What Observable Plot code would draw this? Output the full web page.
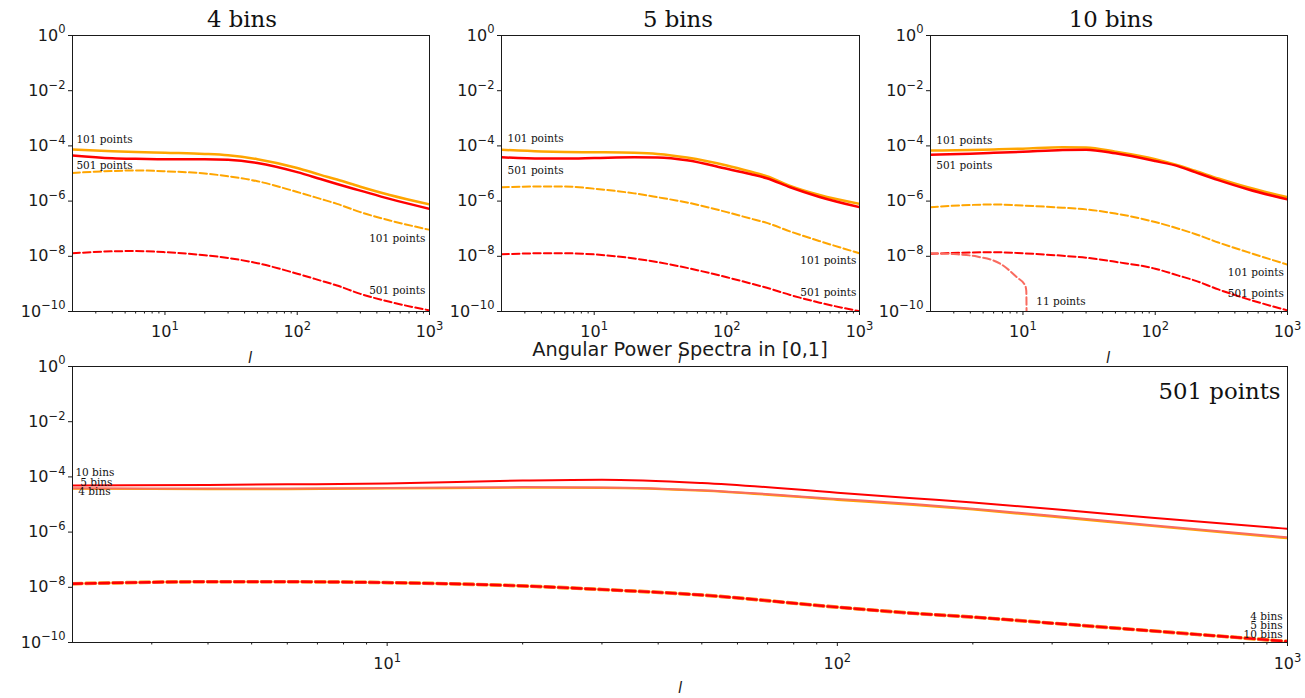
<!DOCTYPE html>
<html><head><meta charset="utf-8">
<script src="https://cdn.jsdelivr.net/npm/d3@7"></script>
<script src="https://cdn.jsdelivr.net/npm/@observablehq/plot@0.6"></script>
<style>
html,body{margin:0;padding:0;background:#fff;}
#wrap{position:relative;width:1305px;height:698px;overflow:hidden;background:#fff;}
#wrap > svg{position:absolute;}
</style></head><body><div id="wrap"></div>
<script>
// ---------- data (values are log10 of the spectrum) ----------
const ell = [2, 4, 6, 10, 20, 30, 50, 100, 150, 200, 300, 500, 1000];

// 4 bins panel
const bins4_solid101  = [-4.13,-4.19,-4.22,-4.25,-4.29,-4.34,-4.48,-4.80,-5.05,-5.22,-5.48,-5.78,-6.12];
const bins4_solid501  = [-4.35,-4.45,-4.47,-4.48,-4.48,-4.50,-4.62,-4.95,-5.20,-5.38,-5.62,-5.92,-6.28];
const bins4_dashed101 = [-4.98,-4.91,-4.89,-4.92,-5.00,-5.10,-5.28,-5.67,-5.92,-6.10,-6.40,-6.70,-7.04];
const bins4_dashed501 = [-7.89,-7.82,-7.81,-7.85,-7.96,-8.06,-8.25,-8.63,-8.88,-9.06,-9.36,-9.65,-9.96];
// 5 bins panel
const bins5_solid101  = [-4.14,-4.20,-4.22,-4.23,-4.25,-4.29,-4.42,-4.71,-4.93,-5.10,-5.45,-5.78,-6.10];
const bins5_solid501  = [-4.41,-4.46,-4.46,-4.44,-4.41,-4.42,-4.52,-4.83,-5.02,-5.17,-5.50,-5.85,-6.22];
const bins5_dashed101 = [-5.50,-5.47,-5.47,-5.55,-5.72,-5.86,-6.05,-6.40,-6.63,-6.79,-7.10,-7.45,-7.89];
const bins5_dashed501 = [-7.93,-7.89,-7.89,-7.93,-8.08,-8.21,-8.42,-8.76,-8.98,-9.14,-9.40,-9.68,-9.99];
// 10 bins panel
const bins10_solid101  = [-4.17,-4.15,-4.13,-4.10,-4.05,-4.06,-4.21,-4.48,-4.71,-4.90,-5.18,-5.50,-5.86];
const bins10_solid501  = [-4.32,-4.28,-4.25,-4.21,-4.15,-4.14,-4.27,-4.55,-4.74,-4.95,-5.24,-5.57,-5.94];
const bins10_dashed101 = [-6.22,-6.14,-6.12,-6.16,-6.24,-6.30,-6.45,-6.76,-7.00,-7.19,-7.50,-7.85,-8.30];
const bins10_dashed501 = [-7.91,-7.86,-7.85,-7.89,-7.98,-8.05,-8.20,-8.45,-8.70,-8.88,-9.20,-9.55,-9.96];
// 10 bins, 11 points (drops out of range near l = 11)
const ell11 = [2, 3, 4.5, 6.75, 9, 10.4, 10.6, 10.7];
const bins10_dashed11 = [-7.89,-7.92,-8.01,-8.27,-8.76,-9.06,-9.25,-12];

// bottom panel: 501 points
const p501_solid4  = [-4.43,-4.44,-4.44,-4.42,-4.39,-4.40,-4.50,-4.83,-5.02,-5.18,-5.44,-5.78,-6.22];
const p501_solid5  = [-4.41,-4.42,-4.42,-4.40,-4.37,-4.38,-4.48,-4.80,-4.99,-5.15,-5.41,-5.75,-6.19];
const p501_solid10 = [-4.31,-4.29,-4.27,-4.24,-4.13,-4.10,-4.22,-4.57,-4.78,-4.93,-5.16,-5.48,-5.88];
const p501_dashed4  = [-7.87,-7.80,-7.80,-7.83,-7.95,-8.08,-8.28,-8.72,-8.95,-9.08,-9.30,-9.58,-9.96];
const p501_dashed5  = [-7.87,-7.80,-7.80,-7.83,-7.95,-8.08,-8.28,-8.72,-8.95,-9.08,-9.30,-9.58,-9.96];
const p501_dashed10 = [-7.87,-7.80,-7.80,-7.83,-7.95,-8.08,-8.28,-8.72,-8.95,-9.08,-9.30,-9.58,-9.96];

const panelTitles = ["4 bins", "5 bins", "10 bins"];
const mainTitle = "Angular Power Spectra in [0,1]";
const xLabel = "l";
const yTicks = [1e-10, 1e-8, 1e-6, 1e-4, 1e-2, 1];
const xMajorTicks = [10, 100, 1000];
const xMinorTicks = [3,4,5,6,7,8,9,20,30,40,50,60,70,80,90,200,300,400,500,600,700,800,900];

// annotation labels (l, log10 value)
const labels4 = [
  {text:"101 points", l:2.14, v:-3.77, a:"start"},
  {text:"501 points", l:2.14, v:-4.71, a:"start"},
  {text:"101 points", l:930, v:-7.36, a:"end"},
  {text:"501 points", l:930, v:-9.24, a:"end"}];
const labels5 = [
  {text:"101 points", l:2.22, v:-3.73, a:"start"},
  {text:"501 points", l:2.22, v:-4.89, a:"start"},
  {text:"101 points", l:948, v:-8.15, a:"end"},
  {text:"501 points", l:948, v:-9.31, a:"end"}];
const labels10 = [
  {text:"101 points", l:2.21, v:-3.80, a:"start"},
  {text:"501 points", l:2.21, v:-4.71, a:"start"},
  {text:"101 points", l:940, v:-8.59, a:"end"},
  {text:"501 points", l:940, v:-9.35, a:"end"},
  {text:"11 points", l:12.6, v:-9.64, a:"start"}];
const labelsBottom = [
  {text:"10 bins", l:2.03, v:-3.83, a:"start"},
  {text:"5 bins", l:2.08, v:-4.19, a:"start"},
  {text:"4 bins", l:2.06, v:-4.52, a:"start"},
  {text:"4 bins", l:975, v:-9.08, a:"end"},
  {text:"5 bins", l:975, v:-9.38, a:"end"},
  {text:"10 bins", l:975, v:-9.72, a:"end"}];

// ---------- helpers ----------
const ORANGE = "#ffa500", RED = "#ff0000", SALMON = "#f96b5f";
const series = (xs, vals) => xs.map((l, i) => ({l, v: Math.pow(10, vals[i])}));
const lab = (arr, a) => arr.filter(d => d.a === a).map(d => ({...d, v: Math.pow(10, d.v)}));
const fmtPow = d => "10^" + String(Math.round(Math.log10(d))).replace("-", "\u2212");

function superscripts(svg) {
  d3.select(svg).selectAll("text").each(function() {
    const m = /^10\^(.+)$/.exec(this.textContent);
    if (!m) return;
    const t = d3.select(this);
    t.text(null);
    t.append("tspan").text("10");
    t.append("tspan").attr("font-size", "0.72em").attr("dy", "-0.62em").text(m[1]);
  });
}

const wrap = document.getElementById("wrap");

function panel({left, top, width, height, ml, mr, mt, mb, lines, labels, extra = [], tickPad = 10}) {
  const textOpts = {x: "l", y: "v", text: "text", fontFamily: "DejaVu Serif", fontSize: 10.5, fill: "#111"};
  const svg = Plot.plot({
    width, height, marginLeft: ml, marginRight: mr, marginTop: mt, marginBottom: mb,
    x: {type: "log", domain: [2, 1000]},
    y: {type: "log", domain: [1e-10, 1]},
    style: {fontFamily: "DejaVu Sans", fontSize: "16px", color: "#1a1a1a", background: "transparent", overflow: "visible"},
    marks: [
      Plot.axisY({ticks: yTicks, tickFormat: fmtPow, tickSize: 4, tickPadding: 3, label: null, fontSize: 16}),
      Plot.axisX({ticks: xMinorTicks, tickSize: 2.5, fill: "none", label: null}),
      Plot.axisX({ticks: xMajorTicks, tickFormat: fmtPow, tickSize: 4, tickPadding: tickPad, label: null, fontSize: 16}),
      ...lines.map(s => Plot.line(s.data, {x: "l", y: "v", stroke: s.color, strokeWidth: s.w,
        strokeDasharray: s.dash, curve: "monotone-x", clip: true})),
      Plot.text(lab(labels, "start"), {...textOpts, textAnchor: "start"}),
      Plot.text(lab(labels, "end"), {...textOpts, textAnchor: "end"}),
      ...extra,
      Plot.frame({stroke: "#1a1a1a", strokeWidth: 1})
    ]
  });
  superscripts(svg);
  svg.style.left = left + "px";
  svg.style.top = top + "px";
  wrap.appendChild(svg);
  return svg;
}

const DASH = "7.4,3.2", DASHB = "9.5,4";
function topLines(s101, s501, d101, d501) {
  return [
    {data: series(ell, s101), color: ORANGE, w: 2.5},
    {data: series(ell, d101), color: ORANGE, w: 2, dash: DASH},
    {data: series(ell, s501), color: RED, w: 2.5},
    {data: series(ell, d501), color: RED, w: 2, dash: DASH}];
}

panel({left: 0, top: 0, width: 430, height: 370, ml: 72, mr: 1, mt: 35, mb: 59,
  lines: topLines(bins4_solid101, bins4_solid501, bins4_dashed101, bins4_dashed501), labels: labels4});
panel({left: 430, top: 0, width: 430, height: 370, ml: 71, mr: 1, mt: 35, mb: 59,
  lines: topLines(bins5_solid101, bins5_solid501, bins5_dashed101, bins5_dashed501), labels: labels5});
panel({left: 860, top: 0, width: 445, height: 370, ml: 70, mr: 18, mt: 35, mb: 59,
  lines: [...topLines(bins10_solid101, bins10_solid501, bins10_dashed101, bins10_dashed501),
          {data: series(ell11, bins10_dashed11), color: SALMON, w: 2, dash: DASH}],
  labels: labels10});
panel({left: 0, top: 346, width: 1305, height: 352, ml: 72, mr: 18, mt: 20, mb: 56, tickPad: 11,
  lines: [
    {data: series(ell, p501_solid4), color: ORANGE, w: 2.2},
    {data: series(ell, p501_solid5), color: SALMON, w: 2},
    {data: series(ell, p501_solid10), color: RED, w: 2},
    {data: series(ell, p501_dashed4), color: ORANGE, w: 3.6, dash: DASHB},
    {data: series(ell, p501_dashed5), color: SALMON, w: 3, dash: DASHB},
    {data: series(ell, p501_dashed10), color: RED, w: 2.4, dash: DASHB}],
  labels: labelsBottom,
  extra: [Plot.text(["501 points"], {frameAnchor: "top-right", text: d => d, textAnchor: "end",
    dx: -7, dy: 16, fontFamily: "DejaVu Serif", fontSize: 22.8, fill: "#111"})]});

// ---------- overlay titles and axis labels ----------
const ov = d3.select(wrap).append("svg").attr("width", 1305).attr("height", 698)
  .style("left", "0px").style("top", "0px").style("pointer-events", "none");
const titleX = [242, 678, 1111];
panelTitles.forEach((t, i) => ov.append("text").attr("x", titleX[i]).attr("y", 27)
  .attr("text-anchor", "middle").attr("font-family", "DejaVu Serif").attr("font-size", 22.8)
  .attr("fill", "#111").text(t));
ov.append("text").attr("x", 680).attr("y", 356).attr("text-anchor", "middle")
  .attr("font-family", "DejaVu Sans").attr("font-size", 19.3).attr("fill", "#1a1a1a").text(mainTitle);
[[250, 363], [680, 363], [1108, 363], [680, 693]].forEach(([x, y]) =>
  ov.append("text").attr("x", x).attr("y", y).attr("text-anchor", "middle")
    .attr("font-family", "DejaVu Sans").attr("font-style", "italic").attr("font-size", 15)
    .attr("fill", "#1a1a1a").text(xLabel));
</script></body></html>
